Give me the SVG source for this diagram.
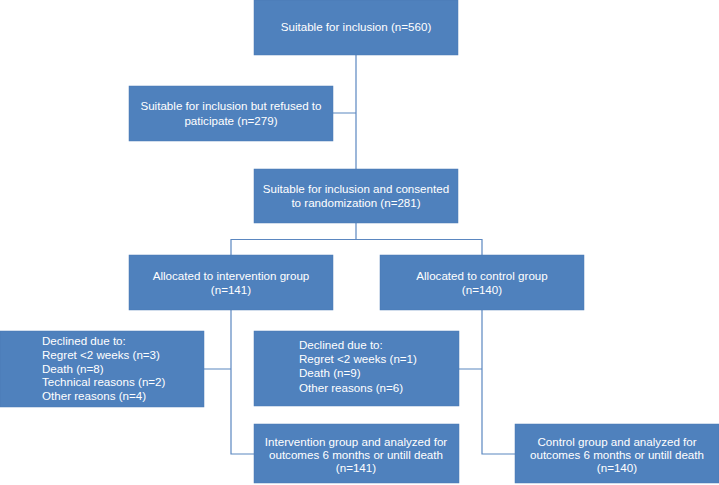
<svg xmlns="http://www.w3.org/2000/svg" width="719" height="485" viewBox="0 0 719 485">
<style>
.box{fill:#4f81bd;stroke:#4a7ab5;stroke-width:0.5}
.t{font-family:"Liberation Sans",Arial,sans-serif;font-size:11.6px;fill:#ffffff}
.c{text-anchor:middle}
.ln{fill:none;stroke:#5b87c0;stroke-width:1.2}
</style>
<rect width="719" height="485" fill="#ffffff"/>
<g id="connectors">
<path class="ln" d="M356 55V169M333 113H356"/>
<path class="ln" d="M356 223V239.5M231 255V239.5H482V255"/>
<path class="ln" d="M231 310V454H254M204 369H231"/>
<path class="ln" d="M482 310V454H515M459 369H482"/>
</g>
<g id="n1"><rect class="box" x="254" y="0" width="204" height="55"/>
<text class="t c" x="356" y="31">Suitable for inclusion (n=560)</text></g>
<g id="n2"><rect class="box" x="129" y="86" width="204" height="55"/>
<text class="t c" x="231" y="110">Suitable for inclusion but refused to</text>
<text class="t c" x="231" y="124.5">paticipate (n=279)</text></g>
<g id="n3"><rect class="box" x="254" y="169" width="204" height="54"/>
<text class="t c" x="356" y="193">Suitable for inclusion and consented</text>
<text class="t c" x="356" y="207">to randomization (n=281)</text></g>
<g id="n4"><rect class="box" x="129" y="255" width="204" height="55"/>
<text class="t c" x="231" y="280">Allocated to intervention group</text>
<text class="t c" x="231" y="294">(n=141)</text></g>
<g id="n5"><rect class="box" x="380" y="255" width="204" height="55"/>
<text class="t c" x="482" y="280">Allocated to control group</text>
<text class="t c" x="482" y="294">(n=140)</text></g>
<g id="n6"><rect class="box" x="0" y="331" width="204" height="76"/>
<text class="t" x="42" y="345">Declined due to:</text>
<text class="t" x="42" y="358.8">Regret &lt;2 weeks (n=3)</text>
<text class="t" x="42" y="372.6">Death (n=8)</text>
<text class="t" x="42" y="386.4">Technical reasons (n=2)</text>
<text class="t" x="42" y="400.2">Other reasons (n=4)</text></g>
<g id="n7"><rect class="box" x="254" y="331" width="205" height="75"/>
<text class="t" x="299" y="349">Declined due to:</text>
<text class="t" x="299" y="363">Regret &lt;2 weeks (n=1)</text>
<text class="t" x="299" y="377">Death (n=9)</text>
<text class="t" x="299" y="391.5">Other reasons (n=6)</text></g>
<g id="n8"><rect class="box" x="254" y="424" width="205" height="59"/>
<text class="t c" x="356" y="446">Intervention group and analyzed for</text>
<text class="t c" x="356" y="459">outcomes 6 months or untill death</text>
<text class="t c" x="356" y="472">(n=141)</text></g>
<g id="n9"><rect class="box" x="515" y="424" width="204" height="59"/>
<text class="t c" x="617" y="446">Control group and analyzed for</text>
<text class="t c" x="617" y="459">outcomes 6 months or untill death</text>
<text class="t c" x="617" y="472">(n=140)</text></g>
</svg>
